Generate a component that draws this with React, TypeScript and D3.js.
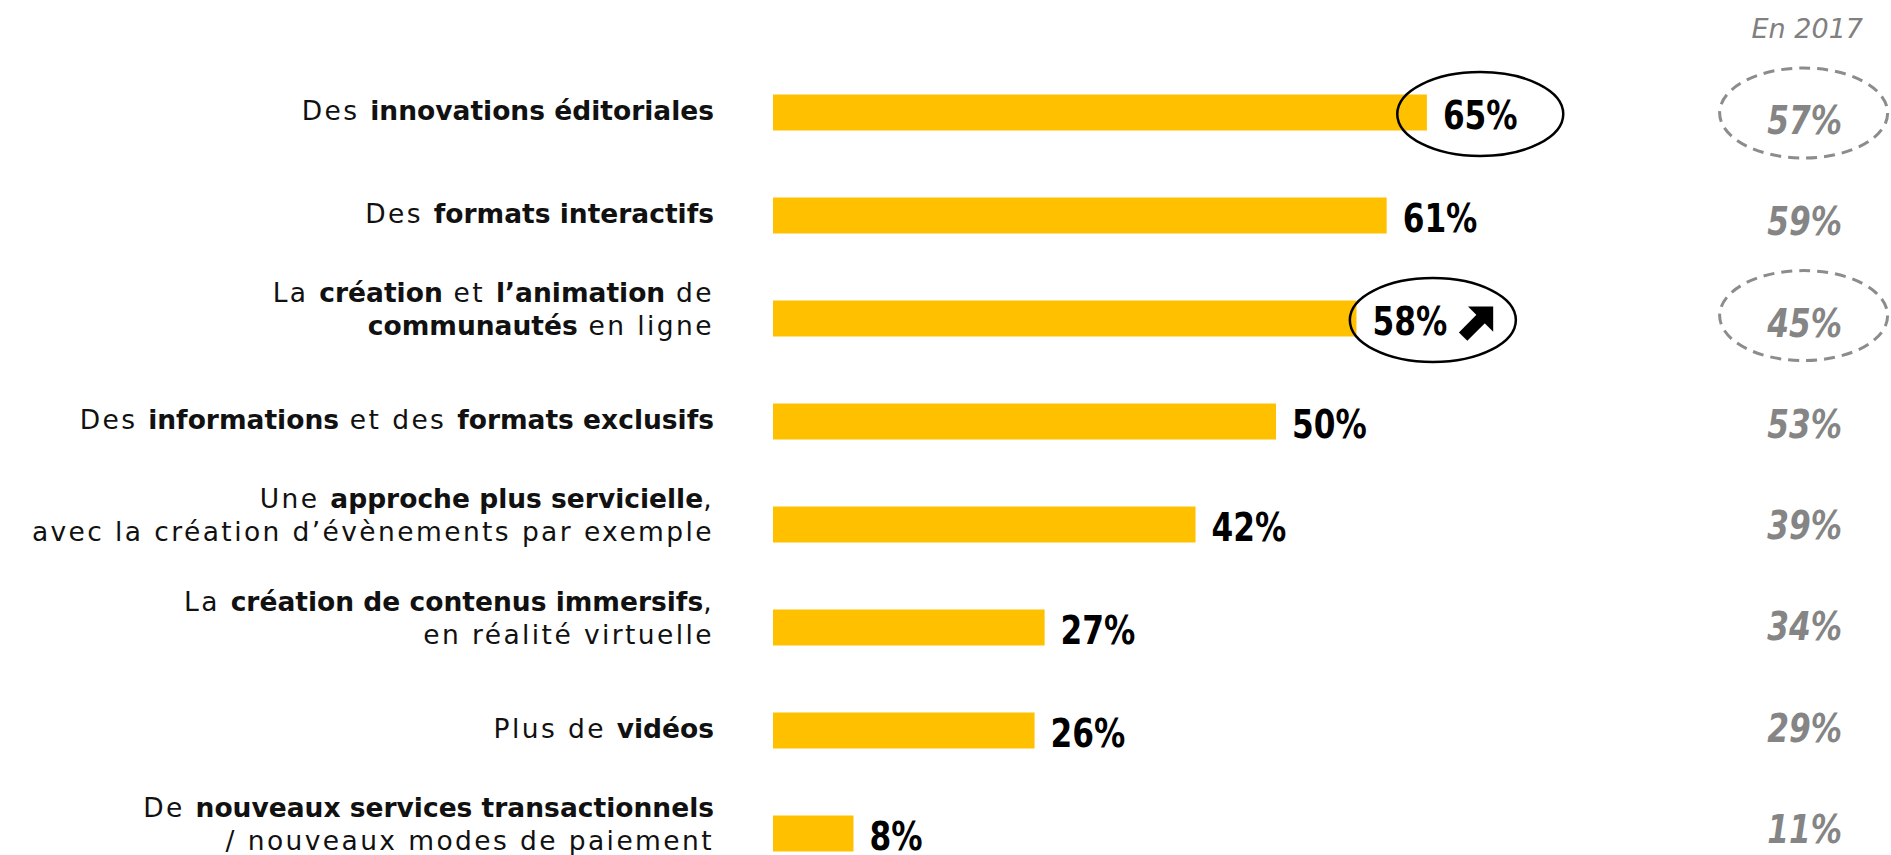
import React, {useEffect, useRef} from 'react';
import * as d3 from "d3";

// each label is a list of lines, each line a list of [text, bold] pieces
type Piece = [string, boolean];

const labels: Piece[][][] = [
    [[["Des ", false], ["innovations éditoriales", true]]],
    [[["Des ", false], ["formats interactifs", true]]],
    [[["La ", false], ["création", true], [" et ", false], ["l’animation", true], [" de", false]],
        [["communautés", true], [" en ligne", false]]],
    [[["Des ", false], ["informations", true], [" et des ", false], ["formats exclusifs", true]]],
    [[["Une ", false], ["approche plus servicielle", true], [",", false]],
        [["avec la création d’évènements par exemple", false]]],
    [[["La ", false], ["création de contenus immersifs", true], [",", false]],
        [["en réalité virtuelle", false]]],
    [[["Plus de ", false], ["vidéos", true]]],
    [[["De ", false], ["nouveaux services transactionnels", true]],
        [["/ nouveaux modes de paiement", false]]],
];

const values = [65, 61, 58, 50, 42, 27, 26, 8];
const values2017 = [57, 59, 45, 53, 39, 34, 29, 11];
const circled = [0, 2];      // rows with a black ellipse on the current value
const risingRows = [2];      // rows with the up arrow
const dashed2017 = [0, 2];   // rows with a dashed ellipse on the 2017 value
const yearLabel = "En 2017";

const WIDTH = 1891;
const HEIGHT = 855;

const labelFont = "'DejaVu Sans', sans-serif";
const valueFont = "'DejaVu Sans Condensed', 'DejaVu Sans', sans-serif";
const squeeze = 0.89; // narrow the value font a bit, the original is a tall Futura-like face

export default function App() {
    const ref = useRef<SVGSVGElement | null>(null);

    useEffect(() => {
        const svg = d3.select(ref.current);
        svg.selectAll("*").remove();

        const rows = values.map((_, i) => i);

        const xScale = d3.scaleLinear().domain([0, 100]).range([773, 1779]);
        const yScale = d3.scalePoint<number>().domain(rows).range([112.5, 833.5]);
        // the 2017 column is spaced a little tighter than the bars in the original
        const yOld = d3.scalePoint<number>().domain(rows).range([113, 822]);
        const barHeight = 36;

        //bars
        svg.append("g")
            .selectAll("rect")
            .data(rows)
            .join("rect")
            .attr("x", xScale(0))
            .attr("y", d => yScale(d)! - barHeight / 2)
            .attr("width", d => xScale(values[d]) - xScale(0))
            .attr("height", barHeight)
            .attr("fill", "#FFC000");

        //category labels, right aligned
        const labelG = svg.append("g")
            .attr("font-family", labelFont)
            .attr("font-size", 26.5)
            .attr("fill", "#111");

        rows.forEach(r => {
            const lines = labels[r];
            const cy = yScale(r)!;
            const offsets = lines.length === 1 ? [7] : [-17, 16];
            lines.forEach((line, li) => {
                const t = labelG.append("text")
                    .attr("x", 714)
                    .attr("y", cy + offsets[li])
                    .attr("text-anchor", "end")
                    .style("white-space", "pre");
                line.forEach(([txt, bold]) => {
                    t.append("tspan")
                        .attr("font-weight", bold ? "bold" : "normal")
                        .attr("letter-spacing", bold ? 0 : 2.4)
                        .text(txt);
                });
            });
        });

        //value labels
        const valueNodes: Record<number, {start: number, end: number}> = {};
        rows.forEach(r => {
            const cy = yScale(r)!;
            const x0 = xScale(values[r]) + 16;
            const t = svg.append("text")
                .attr("transform", `translate(${x0},${cy + 16}) scale(${squeeze},1)`)
                .attr("font-family", valueFont)
                .attr("font-weight", "bold")
                .attr("font-size", 39)
                .attr("fill", "#000")
                .text(values[r] + "%");
            const w = (t.node() as SVGTextElement).getComputedTextLength() * squeeze;
            let end = x0 + w;

            if (risingRows.includes(r)) {
                const s = 35;
                const ax = end + 11;
                const ay = cy + 16 - 28;
                const arrow = svg.append("g").attr("transform", `translate(${ax},${ay})`);
                arrow.append("path")
                    .attr("d", `M${0.28 * s},0 L${s},0 L${s},${0.72 * s} Z`)
                    .attr("fill", "#000");
                arrow.append("line")
                    .attr("x1", 0.72 * s).attr("y1", 0.28 * s)
                    .attr("x2", 0.14 * s).attr("y2", 0.86 * s)
                    .attr("stroke", "#000")
                    .attr("stroke-width", 0.34 * s);
                end = ax + s;
            }
            valueNodes[r] = {start: x0, end};
        });

        //black ellipses round the highlighted values
        circled.forEach(r => {
            const {start, end} = valueNodes[r];
            svg.append("ellipse")
                .attr("cx", (start + end) / 2)
                .attr("cy", yScale(r)! + 1.5)
                .attr("rx", 83)
                .attr("ry", 42)
                .attr("fill", "none")
                .attr("stroke", "#000")
                .attr("stroke-width", 2.5);
        });

        //2017 column
        const rightEdge = 1842;
        svg.append("text")
            .attr("x", 1863)
            .attr("y", 38)
            .attr("text-anchor", "end")
            .attr("font-family", labelFont)
            .attr("font-style", "italic")
            .attr("font-size", 27)
            .attr("fill", "#808080")
            .text(yearLabel);

        const oldWidths: Record<number, number> = {};
        rows.forEach(r => {
            const t = svg.append("text")
                .attr("transform", `translate(${rightEdge},${yOld(r)! + 21}) scale(${squeeze},1)`)
                .attr("text-anchor", "end")
                .attr("font-family", valueFont)
                .attr("font-weight", "bold")
                .attr("font-style", "italic")
                .attr("font-size", 39)
                .attr("fill", "#858585")
                .text(values2017[r] + "%");
            oldWidths[r] = (t.node() as SVGTextElement).getComputedTextLength() * squeeze;
        });

        dashed2017.forEach(r => {
            svg.append("ellipse")
                .attr("cx", rightEdge - oldWidths[r] / 2 - 1)
                .attr("cy", yOld(r)!)
                .attr("rx", 84)
                .attr("ry", 45)
                .attr("fill", "none")
                .attr("stroke", "#8c8c8c")
                .attr("stroke-width", 3)
                .attr("stroke-dasharray", "11,7");
        });
    }, []);

    return (
        <div style={{position: "absolute", left: 0, top: 0}}>
            <svg ref={ref} width={WIDTH} height={HEIGHT} style={{display: "block", background: "#fff"}}/>
        </div>
    );
}
